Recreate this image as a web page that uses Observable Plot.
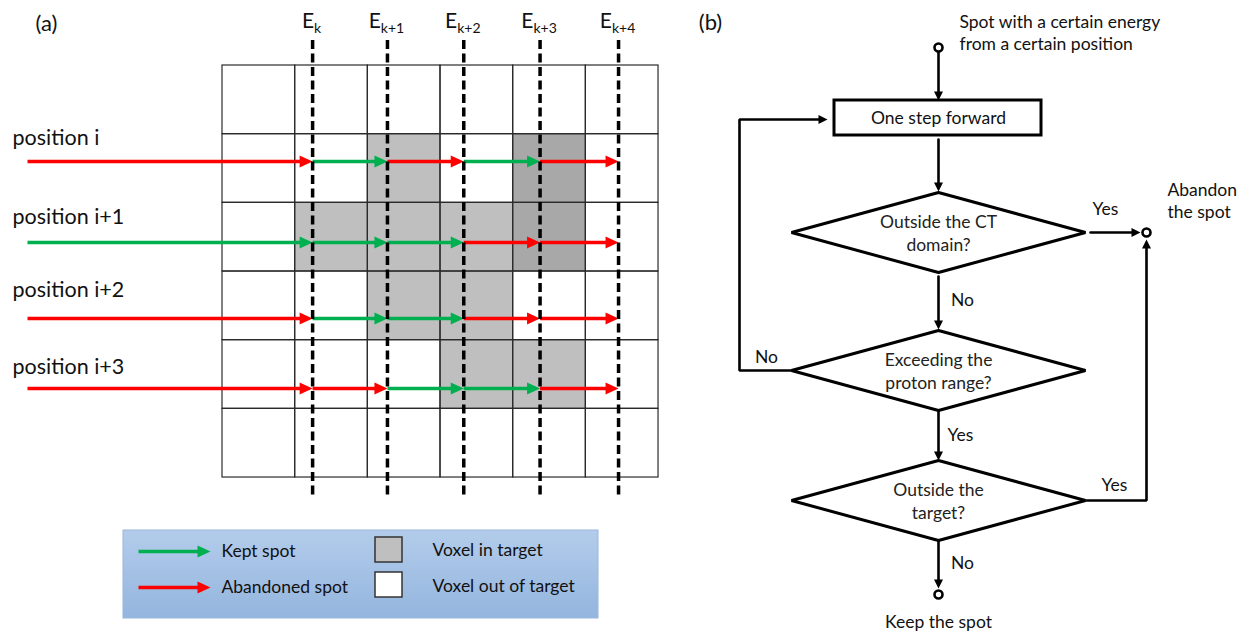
<!DOCTYPE html>
<html><head><meta charset="utf-8">
<script src="https://cdn.jsdelivr.net/npm/d3@7"></script>
<script src="https://cdn.jsdelivr.net/npm/@observablehq/plot@0.6"></script>
<style>body{margin:0;background:#fff} svg{display:block}</style>
</head><body><div id="chart"></div>
<script>
// ================= DATA =================
const energySubscripts = ["k", "k+1", "k+2", "k+3", "k+4"];
// depth of each energy's Bragg peak, in voxel widths from the grid's left edge
const energyDepths = [1.24, 2.27, 3.32, 4.37, 5.45];
const positionLabels = ["position i", "position i+1", "position i+2", "position i+3"];
const positionGridRows = [1, 2, 3, 4];
// spot status per segment: [before E_k, E_k→E_k+1, E_k+1→E_k+2, E_k+2→E_k+3, E_k+3→E_k+4]
const spotStatus = [
  ["A", "K", "A", "K", "A"],
  ["K", "K", "K", "A", "A"],
  ["A", "K", "K", "A", "A"],
  ["A", "A", "K", "K", "A"]
];
// voxels in target: [row, col, shade]
const targetVoxels = [
  [1, 2, "light"], [1, 4, "dark"],
  [2, 1, "light"], [2, 2, "light"], [2, 3, "light"], [2, 4, "dark"],
  [3, 2, "light"], [3, 3, "light"],
  [4, 3, "light"], [4, 4, "light"]
];
const gridCols = 6, gridRows = 6;
const legendSpots = [["K", "Kept spot"], ["A", "Abandoned spot"]];
const legendVoxels = [["light", "Voxel in target"], ["none", "Voxel out of target"]];
const panelLabels = ["(a)", "(b)"];
const startLabel = ["Spot with a certain energy", "from a certain position"];
const stepLabel = "One step forward";
const questions = [["Outside the CT", "domain?"], ["Exceeding the", "proton range?"], ["Outside the", "target?"]];
const abandonLabel = ["Abandon", "the spot"];
const keepLabel = "Keep the spot";
const answers = ["Yes", "No", "No", "Yes", "Yes", "No"];

// ================= LAYOUT / STYLE =================
const W = 1244, H = 632;
const FONT = "Lato, 'Open Sans', sans-serif";
const G = {x0: 222, y0: 65, cw: 72.67, rh: 68.67};
const statusColor = {K: "#00b050", A: "#ff0000"};
const shadeColor = {light: "#bfbfbf", dark: "#a8a8a8", none: "#ffffff"};
const rowArrowY = [161, 242, 318, 388];
const rowLabelY = [138, 217, 290, 367];
const arrowStartX = 27;
const dashX = energyDepths.map(d => G.x0 + d * G.cw);
const textC = "#111";
const FS = 17.5;

const canvas = document.createElement("canvas").getContext("2d");
function tw(t, size) { canvas.font = `${size}px ${FONT}`; return canvas.measureText(t).width; }

function head(id, tx, ty, dir, len, hw) {
  const [dx, dy] = {r: [1, 0], d: [0, 1], u: [0, -1], l: [-1, 0]}[dir];
  const bx = tx - dx * len, by = ty - dy * len, px = -dy, py = dx;
  return [{id, x: tx, y: ty}, {id, x: bx + px * hw, y: by + py * hw}, {id, x: bx - px * hw, y: by - py * hw}, {id, x: tx, y: ty}];
}

// ---- panel (a) geometry ----
const cells = [];
for (let r = 0; r < gridRows; r++) for (let c = 0; c < gridCols; c++) cells.push({r, c});
const cellRect = d => ({x1: G.x0 + d.c * G.cw, x2: G.x0 + (d.c + 1) * G.cw, y1: G.y0 + d.r * G.rh, y2: G.y0 + (d.r + 1) * G.rh});
const targetRects = targetVoxels.map(([r, c, s]) => ({...cellRect({r, c}), fill: shadeColor[s]}));
const gridRects = cells.map(cellRect);

const HL = 13, HW = 6;
const spotSegs = [], spotHeads = [];
spotStatus.forEach((row, i) => {
  row.forEach((s, j) => {
    const x1 = j === 0 ? arrowStartX : dashX[j - 1];
    const x2 = dashX[j];
    const y = rowArrowY[i];
    spotSegs.push({x1, x2: x2 - HL + 1, y, color: statusColor[s]});
    spotHeads.push(...head(`h${i}_${j}`, x2, y, "r", HL, HW).map(p => ({...p, color: statusColor[s]})));
  });
});

const eLabels = energySubscripts.map((s, i) => {
  const wE = tw("E", 21), wS = tw(s, 14);
  const start = dashX[i] - (wE + wS) / 2 - 1;
  return {xE: start, xS: start + wE, sub: s};
});

// ---- legend ----
const LB = {x1: 123, x2: 598, y1: 530, y2: 618};
const legArrowY = [551, 587];
const legSegs = legendSpots.map(([s], i) => ({x1: 138, x2: 210 - HL + 1, y: legArrowY[i], color: statusColor[s]}));
const legHeads = legendSpots.flatMap(([s], i) => head(`lh${i}`, 210, legArrowY[i], "r", HL, HW).map(p => ({...p, color: statusColor[s]})));
const legSpotText = legendSpots.map(([, t], i) => ({x: 221, y: legArrowY[i], t}));
const legVoxRects = legendVoxels.map(([s], i) => ({x1: 375, x2: 402, y1: 537 + i * 35, y2: 562 + i * 35, fill: shadeColor[s]}));
const legVoxText = legendVoxels.map(([, t], i) => ({x: 432, y: 550 + i * 36, t}));

// ---- panel (b) geometry ----
const CX = 938, DHW = 147, DHH = 40;
const dCY = [232, 370, 500];
const diamonds = dCY.flatMap((cy, i) => [
  {id: i, x: CX, y: cy - DHH}, {id: i, x: CX + DHW, y: cy}, {id: i, x: CX, y: cy + DHH}, {id: i, x: CX - DHW, y: cy}, {id: i, x: CX, y: cy - DHH}
]);
const qText = questions.flatMap((q, i) => q.map((t, k) => ({x: CX, y: dCY[i] - 10 + k * 23, t})));
const box = {x1: 834, x2: 1041, y1: 100, y2: 135};
const circles = [{x: CX, y: 47}, {x: 1146, y: 232}, {x: CX, y: 594}];
const FHL = 9, FHW = 4.5;
const conn = [
  {pts: [[CX, 52], [CX, 100]], dir: "d"},
  {pts: [[CX, 139], [CX, 191]], dir: "d"},
  {pts: [[1090, 232], [1140, 232]], dir: "r"},
  {pts: [[CX, 276], [CX, 329]], dir: "d"},
  {pts: [[CX - DHW, 370], [739, 370], [739, 119], [827, 119]], dir: "r"},
  {pts: [[CX, 411], [CX, 460]], dir: "d"},
  {pts: [[CX + DHW + 1, 500], [1146, 500], [1146, 239]], dir: "u"},
  {pts: [[CX, 541], [CX, 588]], dir: "d"}
];
const connLines = [], connHeads = [];
conn.forEach((c, i) => {
  const pts = c.pts.map(p => p.slice());
  const tip = pts[pts.length - 1].slice();
  const [dx, dy] = {r: [1, 0], d: [0, 1], u: [0, -1]}[c.dir];
  pts[pts.length - 1] = [tip[0] - dx * (FHL - 1), tip[1] - dy * (FHL - 1)];
  pts.forEach(([x, y]) => connLines.push({id: i, x, y}));
  connHeads.push(...head(`c${i}`, tip[0], tip[1], c.dir, FHL, FHW));
});
const answerPos = [[1105, 209], [962, 300], [766, 357], [960, 435], [1114, 485], [962, 563]];
const answerText = answers.map((t, i) => ({x: answerPos[i][0], y: answerPos[i][1], t}));

// ================= PLOT =================
const chart = Plot.plot({
  width: W, height: H, margin: 0,
  x: {type: "linear", domain: [0, W], range: [0, W], axis: null},
  y: {type: "linear", domain: [0, H], range: [0, H], axis: null},
  style: {fontFamily: FONT, background: "white", color: textC},
  marks: [
    // panel (a)
    Plot.rect(targetRects, {x1: "x1", x2: "x2", y1: "y1", y2: "y2", fill: "fill"}),
    Plot.rect(gridRects, {x1: "x1", x2: "x2", y1: "y1", y2: "y2", fill: "none", stroke: "#2b2b2b", strokeWidth: 1.2}),
    Plot.link(spotSegs, {x1: "x1", x2: "x2", y1: "y", y2: "y", stroke: "color", strokeWidth: 3.5}),
    Plot.line(spotHeads, {x: "x", y: "y", z: "id", fill: "color", stroke: null}),
    Plot.ruleX(dashX, {x: d => d, y1: 40, y2: 498, stroke: "#000", strokeWidth: 3.5, strokeDasharray: "9,4.5"}),
    Plot.text(eLabels, {x: "xE", y: 21, text: () => "E", fontSize: 21, textAnchor: "start", fill: textC}),
    Plot.text(eLabels, {x: "xS", y: 28, text: "sub", fontSize: 14, textAnchor: "start", fill: textC}),
    Plot.text(positionLabels, {x: 12, y: (d, i) => rowLabelY[i], text: d => d, fontSize: 21.5, textAnchor: "start", fill: textC}),
    Plot.text([panelLabels[0]], {x: 46, y: 23, text: d => d, fontSize: 22, fill: textC}),
    // legend
    Plot.rect([LB], {x1: "x1", x2: "x2", y1: "y1", y2: "y2", fill: "url(#legbg)", stroke: "#9ab6dc", strokeWidth: 1}),
    Plot.link(legSegs, {x1: "x1", x2: "x2", y1: "y", y2: "y", stroke: "color", strokeWidth: 3.5}),
    Plot.line(legHeads, {x: "x", y: "y", z: "id", fill: "color", stroke: null}),
    Plot.text(legSpotText, {x: "x", y: "y", text: "t", fontSize: FS, textAnchor: "start", fill: textC}),
    Plot.rect(legVoxRects, {x1: "x1", x2: "x2", y1: "y1", y2: "y2", fill: "fill", stroke: "#333", strokeWidth: 1.5}),
    Plot.text(legVoxText, {x: "x", y: "y", text: "t", fontSize: FS, textAnchor: "start", fill: textC}),
    // panel (b)
    Plot.text([panelLabels[1]], {x: 710, y: 22, text: d => d, fontSize: 22, fill: textC}),
    Plot.text(startLabel, {x: 959, y: (d, i) => 22 + i * 22, text: d => d, fontSize: FS, textAnchor: "start", fill: textC}),
    Plot.line(connLines, {x: "x", y: "y", z: "id", stroke: "#000", strokeWidth: 2.6, strokeLinejoin: "miter"}),
    Plot.line(connHeads, {x: "x", y: "y", z: "id", fill: "#000", stroke: null}),
    Plot.rect([box], {x1: "x1", x2: "x2", y1: "y1", y2: "y2", fill: "white", stroke: "#000", strokeWidth: 3}),
    Plot.text([stepLabel], {x: CX, y: 118, text: d => d, fontSize: FS, fill: textC}),
    Plot.line(diamonds, {x: "x", y: "y", z: "id", fill: "white", stroke: "#000", strokeWidth: 3, strokeLinejoin: "miter"}),
    Plot.text(qText, {x: "x", y: "y", text: "t", fontSize: FS, fill: "#222"}),
    Plot.dot(circles, {x: "x", y: "y", r: 4, fill: "white", stroke: "#000", strokeWidth: 2.6}),
    Plot.text(answerText, {x: "x", y: "y", text: "t", fontSize: FS, fill: textC}),
    Plot.text(abandonLabel, {x: 1167, y: (d, i) => 190 + i * 22, text: d => d, fontSize: FS, textAnchor: "start", fill: textC}),
    Plot.text([keepLabel], {x: CX, y: 622, text: d => d, fontSize: FS, fill: textC})
  ]
});

// gradient for the legend background
const defs = d3.select(chart).insert("defs", ":first-child");
const lg = defs.append("linearGradient").attr("id", "legbg").attr("x1", 0).attr("y1", 0).attr("x2", 0).attr("y2", 1);
lg.append("stop").attr("offset", 0).attr("stop-color", "#b3cceb");
lg.append("stop").attr("offset", 1).attr("stop-color", "#94b5de");

document.getElementById("chart").appendChild(chart);
</script>
</body></html>
